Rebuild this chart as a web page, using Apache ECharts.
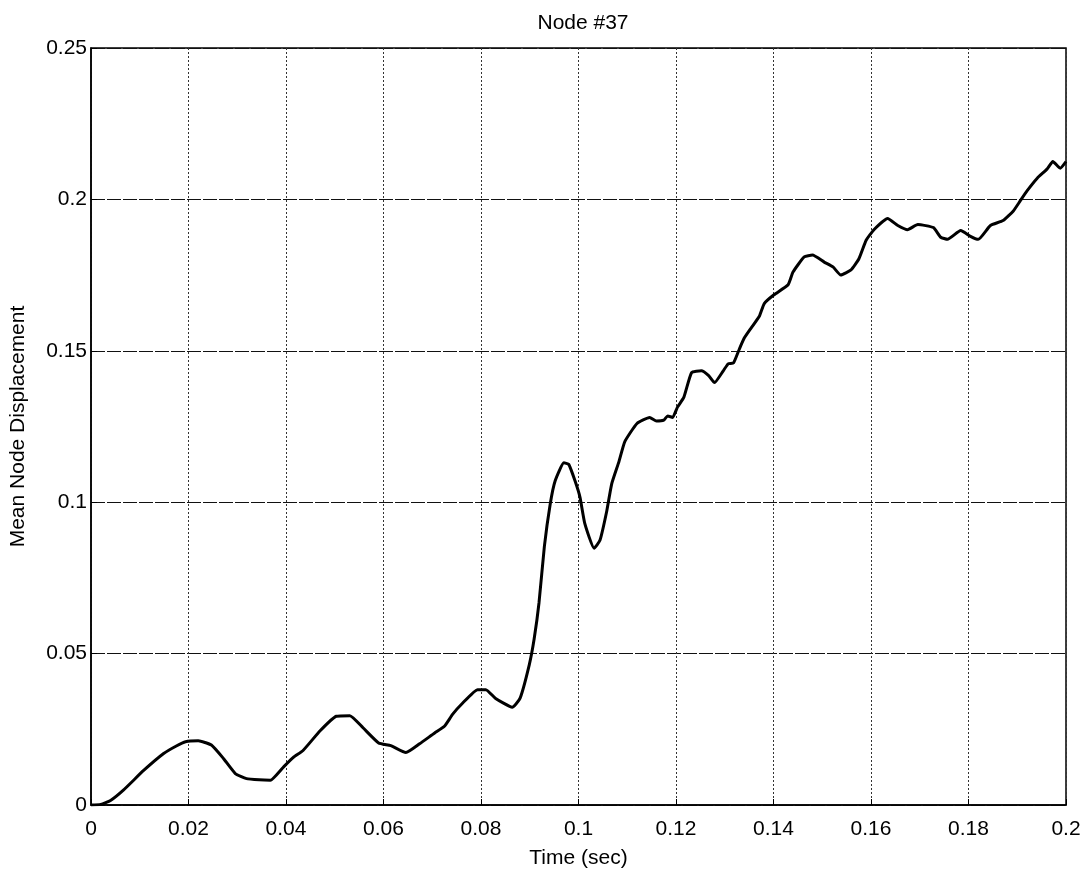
<!DOCTYPE html>
<html>
<head>
<meta charset="utf-8">
<script src="https://cdn.jsdelivr.net/npm/echarts@6/dist/echarts.min.js"></script>
<style>
html,body{margin:0;padding:0;background:#fff;}
#chart{width:1084px;height:874px;}
</style>
</head>
<body>
<div id="chart"></div>
<script>
const chartTitle = 'Node #37';
const xAxisName = 'Time (sec)';
const yAxisName = 'Mean Node Displacement';
const xTickLabels = ['0','0.02','0.04','0.06','0.08','0.1','0.12','0.14','0.16','0.18','0.2'];
const yTickLabels = ['0','0.05','0.1','0.15','0.2','0.25'];
const timeSec = [
0,0.002,0.004,0.0067,0.0108,0.0149,0.0175,0.0194,0.022,0.0247,0.0272,0.0296,0.0319,0.0345,0.0368,0.0394,0.0415,0.0435,0.047,0.0503,
0.0531,0.0558,0.059,0.0615,0.0646,0.0674,0.0705,0.0725,0.0742,0.0762,0.0793,0.081,0.083,0.0864,0.088,0.0899,0.0909,0.0919,0.093,0.0942,
0.0952,0.097,0.098,0.0993,0.1003,0.1013,0.1032,0.1044,0.1058,0.1068,0.1083,0.1095,0.112,0.1146,0.116,0.1175,0.1183,0.1193,0.1203,0.1216,
0.1232,0.1252,0.1267,0.1279,0.1297,0.1307,0.1318,0.133,0.134,0.1354,0.1371,0.1381,0.1401,0.143,0.144,0.1463,0.148,0.1504,0.1522,0.1538,
0.1559,0.1575,0.159,0.1606,0.1634,0.1655,0.1675,0.1696,0.1728,0.1743,0.1757,0.1784,0.1804,0.182,0.1845,0.1871,0.1892,0.1906,0.192,0.1941,
0.1961,0.1973,0.1988,0.2
];
const displacement = [
0,0.0002,0.0015,0.005,0.0114,0.017,0.0195,0.0209,0.0212,0.0198,0.0153,0.0104,0.0087,0.0083,0.0082,0.0124,0.0157,0.018,0.0245,0.0293,
0.0295,0.0255,0.0205,0.0196,0.0173,0.0202,0.0238,0.026,0.030,0.0336,0.0381,0.0381,0.0352,0.0323,0.0352,0.0463,0.0548,0.0668,0.0854,0.0994,
0.107,0.113,0.1125,0.107,0.1017,0.0929,0.0848,0.0874,0.0971,0.106,0.1134,0.12,0.126,0.128,0.1268,0.1271,0.1285,0.128,0.1314,0.1346,
0.1428,0.1434,0.1418,0.1395,0.1434,0.1457,0.146,0.1506,0.1542,0.1575,0.1614,0.1656,0.1685,0.1718,0.176,0.181,0.1816,0.1793,0.1777,0.175,
0.1767,0.1803,0.1865,0.19,0.1937,0.1914,0.19,0.1917,0.1907,0.1875,0.1868,0.1897,0.1878,0.1868,0.1914,0.193,0.1962,0.1995,0.2028,0.207,
0.21,0.2125,0.2103,0.2125
];

const FONT = '"Liberation Sans", Arial, sans-serif';
const chart = echarts.init(document.getElementById('chart'), null, {renderer:'canvas'});
const seriesData = timeSec.map((t,i)=>[t, displacement[i]]);

chart.setOption({
  backgroundColor:'#ffffff',
  animation:false,
  title:{
    text: chartTitle, left: 578, top: 8, textAlign:'center',
    textStyle:{fontFamily:FONT, fontSize:21, fontWeight:'normal', color:'#000'}
  },
  grid:{left:87, right:18, top:48, bottom:59, show:true, borderColor:'#000', borderWidth:1.5, backgroundColor:'transparent'},
  xAxis:{
    type:'value', min:0, max:0.2, interval:0.02,
    name:xAxisName, nameLocation:'middle', nameGap:43,
    nameTextStyle:{fontFamily:FONT, fontSize:21, color:'#000'},
    axisLine:{show:true, lineStyle:{color:'#000', width:1.5}},
    axisTick:{show:true, inside:true, length:6, lineStyle:{color:'#000'}},
    axisLabel:{fontFamily:FONT, fontSize:21, color:'#000', margin:14,
      formatter:(v)=>xTickLabels[Math.round(v/0.02)]},
    splitLine:{show:true, lineStyle:{color:'#333', width:1, type:[2,2]}}
  },
  yAxis:{
    type:'value', min:0, max:0.25, interval:0.05,
    name:yAxisName, nameLocation:'middle', nameGap:62,
    nameTextStyle:{fontFamily:FONT, fontSize:21, color:'#000'},
    axisLine:{show:true, lineStyle:{color:'#000', width:1.5}},
    axisTick:{show:true, inside:true, length:6, lineStyle:{color:'#000'}},
    axisLabel:{fontFamily:FONT, fontSize:21, color:'#000', margin:4,
      formatter:(v)=>yTickLabels[Math.round(v/0.05)]},
    splitLine:{show:true, lineStyle:{color:'#111', width:1.2, type:[14,2]}}
  },
  series:[{
    type:'line', data:seriesData, showSymbol:false, smooth:0.15,
    lineStyle:{color:'#000', width:3}, clip:true
  }]
});
</script>
</body>
</html>
